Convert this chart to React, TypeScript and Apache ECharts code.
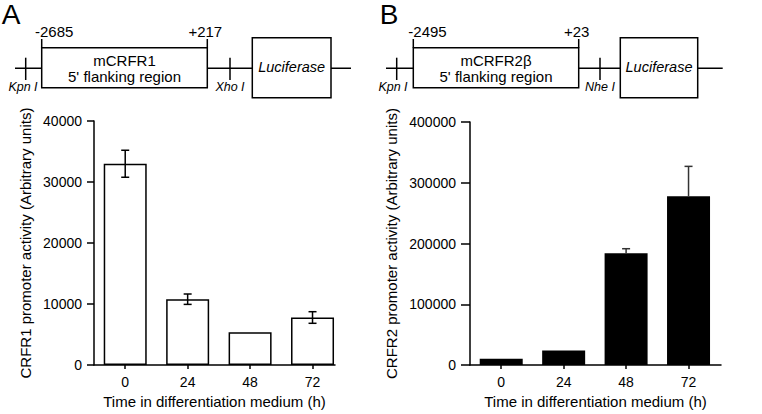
import React, { useEffect, useRef } from "react";
import * as echarts from "echarts";

const hours = ["0", "24", "48", "72"];
const crfr1Mean = [33000, 10800, 5400, 7800];
const crfr1Err = [2200, 850, 0, 950];
const crfr2Mean = [10500, 24000, 184000, 278000];
const crfr2Err = [0, 0, 7500, 49000];
const yTicksA = { min: 0, max: 40000, interval: 10000 };
const yTicksB = { min: 0, max: 400000, interval: 100000 };

const FONT = "'Liberation Sans', Arial, Helvetica, sans-serif";
const LW = 1.5;

function lineEl(x1: number, y1: number, x2: number, y2: number) {
  return { type: "line", shape: { x1, y1, x2, y2 }, style: { stroke: "#000", lineWidth: LW }, silent: true };
}
function rectEl(x: number, y: number, w: number, h: number) {
  return { type: "rect", shape: { x, y, width: w, height: h }, style: { fill: "#fff", stroke: "#000", lineWidth: LW }, silent: true };
}
function textEl(t: string, x: number, y: number, size: number, opts: any = {}) {
  return {
    type: "text",
    x,
    y,
    silent: true,
    style: {
      text: t,
      fontSize: size,
      fontFamily: FONT,
      fill: "#000",
      align: opts.align || "center",
      verticalAlign: "middle",
      fontStyle: opts.italic ? "italic" : "normal",
      lineHeight: opts.lineHeight || size * 1.1,
    },
  };
}

function diagram(ox: number, box: [number, number], siteL: number, siteR: number, lucX: [number, number], name: string, startLbl: string, endLbl: string, leftEnzyme: string, rightEnzyme: string, lineEnd: [number, number], startLblX: number, kpnX: number) {
  const els: any[] = [];
  els.push(lineEl(ox + lineEnd[0], 68.3, ox + lineEnd[1], 68.3));
  els.push(lineEl(ox + siteL, 57.7, ox + siteL, 80));
  els.push(lineEl(ox + siteR, 57.7, ox + siteR, 80));
  els.push(rectEl(ox + box[0], 47.7, box[1] - box[0], 40));
  els.push(lineEl(ox + box[0], 39, ox + box[0], 47.7));
  els.push(lineEl(ox + box[1], 39, ox + box[1], 47.7));
  els.push(rectEl(ox + lucX[0], 37.7, lucX[1] - lucX[0], 60));
  els.push(textEl("Luciferase", ox + (lucX[0] + lucX[1]) / 2, 66.7, 14.5, { italic: true }));
  els.push(textEl(name + "\n5' flanking region", ox + (box[0] + box[1]) / 2, 68.3, 15, { lineHeight: 15.5 }));
  els.push(textEl(startLbl, ox + startLblX, 31.7, 15, { align: "left" }));
  els.push(textEl(endLbl, ox + box[1] - 2, 31.7, 15));
  els.push(textEl(leftEnzyme, ox + kpnX, 87.3, 12.5, { italic: true }));
  els.push(textEl(rightEnzyme, ox + siteR, 87.3, 12.5, { italic: true }));
  return els;
}

function errRender(color: string, upperOnly: boolean) {
  return (params: any, api: any) => {
    const x = api.value(0);
    const lo = api.value(1);
    const hi = api.value(2);
    const mid = api.value(3);
    if (hi === lo) return { type: "group", children: [] };
    const pHi = api.coord([x, hi]);
    const pLo = api.coord([x, upperOnly ? mid : lo]);
    const cap = 4;
    const h = LW;
    const children: any[] = [
      { type: "rect", shape: { x: pHi[0] - h / 2, y: pHi[1], width: h, height: pLo[1] - pHi[1] }, style: { fill: color } },
      { type: "rect", shape: { x: pHi[0] - cap, y: pHi[1] - h / 2, width: cap * 2, height: h }, style: { fill: color } },
    ];
    if (!upperOnly) {
      children.push({ type: "rect", shape: { x: pLo[0] - cap, y: pLo[1] - h / 2, width: cap * 2, height: h }, style: { fill: color } });
    }
    return { type: "group", children };
  };
}

export default function App() {
  const ref = useRef<HTMLDivElement>(null);
  useEffect(() => {
    if (!ref.current) return;
    const chart = echarts.init(ref.current, undefined, { renderer: "svg" });
    const axisText = { color: "#000", fontSize: 14, fontFamily: FONT };
    const nameText = { color: "#000", fontSize: 15, fontFamily: FONT };
    const xAxisCommon = (max: number) => ({
      type: "value",
      min: -0.5,
      max,
      axisLine: { show: true, onZero: false, lineStyle: { color: "#000", width: LW } },
      axisTick: { show: true, length: 4, customValues: [0, 1, 2, 3], lineStyle: { color: "#000", width: LW } },
      axisLabel: { ...axisText, margin: 10, customValues: [0, 1, 2, 3], formatter: (v: number) => hours[Math.round(v)] },
      splitLine: { show: false },
      name: "Time in differentiation medium (h)",
      nameLocation: "middle",
      nameGap: 28,
      nameTextStyle: nameText,
    });
    const yAxisCommon = (t: any, name: string, gap: number, tickLen: number) => ({
      type: "value",
      min: t.min,
      max: t.max,
      interval: t.interval,
      axisLine: { show: true, onZero: false, lineStyle: { color: "#000", width: LW } },
      axisTick: { show: true, length: tickLen, lineStyle: { color: "#000", width: LW } },
      axisLabel: { ...axisText, margin: tickLen + 5, formatter: (v: number) => String(v) },
      splitLine: { show: false },
      name,
      nameLocation: "middle",
      nameGap: gap,
      nameTextStyle: nameText,
    });
    const graphics = [
      textEl("A", 11, 14, 28),
      textEl("B", 389, 14, 28),
      ...diagram(0, [41.7, 207.3], 25.7, 230, [252.3, 331], "mCRFR1", "-2685", "+217", "Kpn I", "Xho I", [15, 351], 35, 23),
      ...diagram(381, [32.3, 197.7], 15.7, 219, [239.3, 316.7], "mCRFR2\u03b2", "-2495", "+23", "Kpn I", "Nhe I", [5, 341.7], 27.3, 12),
    ];
    chart.setOption({
      animation: false,
      textStyle: { fontFamily: FONT },
      grid: [
        { left: 94, top: 121, width: 241, height: 249 },
        { left: 470, top: 122, width: 251, height: 250 },
      ],
      xAxis: [
        { ...xAxisCommon(3.36), gridIndex: 0 },
        { ...xAxisCommon(3.52), gridIndex: 1 },
      ],
      yAxis: [
        { ...yAxisCommon(yTicksA, "CRFR1 promoter activity (Arbitrary units)", 61, 7), gridIndex: 0 },
        { ...yAxisCommon(yTicksB, "CRFR2 promoter activity (Arbitrary units)", 71, 9), gridIndex: 1 },
      ],
      graphic: graphics,
      series: [
        {
          type: "bar",
          xAxisIndex: 0,
          yAxisIndex: 0,
          barWidth: 43,
          data: crfr1Mean.map((v, i) => [i, v]),
          itemStyle: { color: "#fff", borderColor: "#000", borderWidth: LW },
        },
        {
          type: "custom",
          xAxisIndex: 0,
          yAxisIndex: 0,
          z: 5,
          clip: false,
          data: crfr1Mean.map((v, i) => [i, v - crfr1Err[i], v + crfr1Err[i], v]),
          renderItem: errRender("#000", false),
        },
        {
          type: "bar",
          xAxisIndex: 1,
          yAxisIndex: 1,
          barWidth: 43,
          data: crfr2Mean.map((v, i) => [i, v]),
          itemStyle: { color: "#000" },
        },
        {
          type: "custom",
          xAxisIndex: 1,
          yAxisIndex: 1,
          z: 5,
          clip: false,
          data: crfr2Mean.map((v, i) => [i, v - crfr2Err[i], v + crfr2Err[i], v]),
          renderItem: errRender("#333", true),
        },
      ],
    });
    return () => chart.dispose();
  }, []);
  return (
    <div style={{ position: "fixed", left: 0, top: 0, width: 762, height: 414, background: "#fff" }}>
      <div ref={ref} style={{ width: 762, height: 414 }} />
    </div>
  );
}
